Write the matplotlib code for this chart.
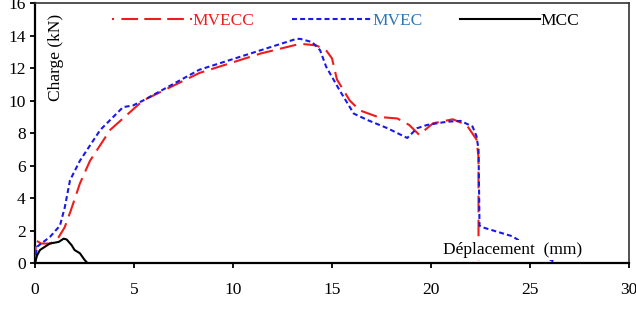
import matplotlib
matplotlib.use("Agg")
import matplotlib.pyplot as plt
from matplotlib.lines import Line2D

plt.rcParams['font.family'] = ['Liberation Serif', 'DejaVu Serif']

# MVECC (red long dash)
mvecc_x = [0, 0.05, 0.3, 0.8, 1.2, 1.5, 1.8, 2.27, 2.78, 3.8, 5.45, 8.3, 11.4, 13.4,
           14.2, 14.7, 15.0, 15.25, 15.9, 16.4, 17.3, 18.3, 18.9, 19.4, 20.1, 21.1,
           21.8, 22.3, 22.4, 22.4]
mvecc_y = [0, 1.4, 1.2, 1.2, 1.6, 2.2, 3.2, 4.9, 6.3, 8.2, 10.0, 11.7, 12.9, 13.5,
           13.4, 13.1, 12.6, 11.3, 10.0, 9.4, 9.0, 8.9, 8.5, 7.9, 8.6, 8.85,
           8.5, 7.6, 6.5, 0]

# MVEC (blue short dash)
mvec_x = [0, 0.1, 0.75, 1.26, 1.5, 1.77, 2.27, 3.3, 4.45, 4.95, 5.45, 8.3, 11.4, 13.2,
          13.4, 14.0, 14.4, 14.7, 15.4, 16.1, 16.8, 17.8, 18.8, 19.3, 19.8, 20.8,
          21.5, 22.1, 22.3, 22.4, 22.45, 22.6, 24.1, 26.3]
mvec_y = [0, 1.0, 1.6, 2.3, 3.4, 5.1, 6.3, 8.2, 9.6, 9.7, 10.0, 11.9, 13.1, 13.8,
          13.8, 13.6, 13.1, 12.1, 10.6, 9.2, 8.8, 8.3, 7.7, 8.3, 8.5, 8.7,
          8.75, 8.4, 7.8, 7.0, 2.3, 2.2, 1.65, 0.0]

# MCC (black solid)
mcc_x = [0, 0.1, 0.25, 0.75, 1.2, 1.45, 1.6, 1.85, 2.0, 2.27, 2.5, 2.65]
mcc_y = [0, 0.45, 0.8, 1.2, 1.3, 1.5, 1.45, 1.1, 0.8, 0.6, 0.2, 0]

x_ticks = [0, 5, 10, 15, 20, 25, 30]
y_ticks = [0, 2, 4, 6, 8, 10, 12, 14, 16]

fig = plt.figure(figsize=(6.36, 3.15), dpi=100)
ax = fig.add_axes([0.055, 0.165, 0.934, 0.825])

ax.plot(mvecc_x, mvecc_y, color='#ee1c1c', lw=1.5, dashes=(8, 3.5), zorder=3)
ax.plot(mvec_x, mvec_y, color='#1a1ae6', lw=1.5, dashes=(2.4, 1.5), zorder=3)
ax.plot(mcc_x, mcc_y, color='black', lw=1.5, zorder=3)

ax.set_xlim(0, 30)
ax.set_ylim(0, 16)
ax.set_xticks(x_ticks)
ax.set_yticks(y_ticks)
ax.tick_params(axis='both', direction='out', length=3.6, width=1.3, labelsize=12.5)
ax.tick_params(axis='x', pad=10)
ax.tick_params(axis='y', pad=3)

for s in ['left', 'bottom']:
    ax.spines[s].set_linewidth(1.6)
    ax.spines[s].set_color('black')
for s in ['top', 'right']:
    ax.spines[s].set_linewidth(1.2)
    ax.spines[s].set_color('#333333')

ax.text(0.036, 0.792, 'Charge (kN)', transform=ax.transAxes, rotation=90,
        ha='center', va='center', fontsize=12.5)
ax.text(0.804, 0.05, 'Déplacement  (mm)', transform=ax.transAxes,
        ha='center', va='center', fontsize=12.5,
        bbox=dict(facecolor='white', edgecolor='none', pad=1.5), zorder=5)

handles = [
    Line2D([], [], color='#ee1c1c', lw=1.5, dashes=(1, 3.5, 8, 3, 8, 3, 8, 3, 30, 0)),
    Line2D([], [], color='#1a1ae6', lw=1.5, dashes=(2.4, 1.5)),
    Line2D([], [], color='black', lw=1.5),
]
leg = ax.legend(handles, ['MVECC', 'MVEC', 'MCC'], ncol=3, frameon=False,
                loc='center', bbox_to_anchor=(0.523, 0.93), fontsize=12.5,
                handlelength=4.6, handletextpad=0.0, columnspacing=2.2)
for t, c in zip(leg.get_texts(), ['#ee1c1c', '#2e75b6', 'black']):
    t.set_color(c)

fig.savefig('out.png', dpi=100)
